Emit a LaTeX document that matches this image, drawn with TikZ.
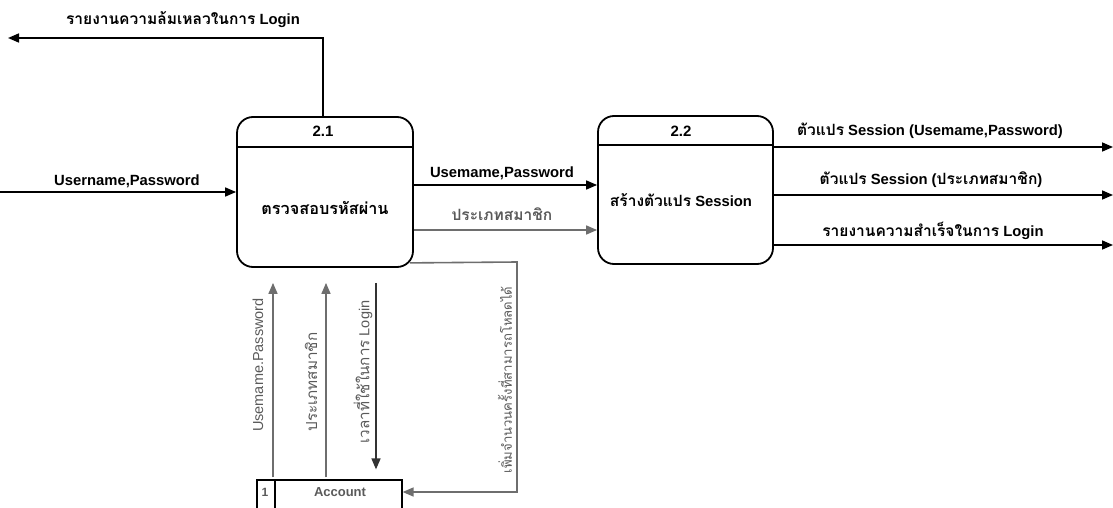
\documentclass[tikz,border=0pt]{standalone}
\usepackage{fontspec}
\setmainfont{Liberation Sans}
\newfontfamily\thaifont[Script=Thai,Scale=1.05]{Loma}
\newcommand{\tht}[1]{{\thaifont #1}}
\usetikzlibrary{arrows.meta}
\definecolor{flowgray}{HTML}{6E6E6E}
\definecolor{txtgray}{HTML}{5A5A5A}
\tikzset{
  tip/.style={-{Triangle[length=11pt,width=9pt]}},
  flow/.style={tip, line width=1.6pt, draw=black},
  gflow/.style={tip, line width=1.6pt, draw=flowgray},
  proc/.style={draw=black, line width=1.8pt, rounded corners=16pt, minimum width=176pt, minimum height=150pt, inner sep=0pt},
  lbl/.style={font=\fontsize{14.8}{17}\selectfont\bfseries, inner sep=1pt},
  vlbl/.style={font=\fontsize{14.5}{16}\selectfont, text=txtgray, rotate=90, inner sep=1pt},
}
\begin{document}
\begin{tikzpicture}[x=1pt,y=-1pt]
\useasboundingbox (0,0) rectangle (1113,508);
% processes
\node[proc] (p21) at (325,192) {};
\node[proc, minimum width=175pt, minimum height=148pt] (p22) at (685.5,190) {};
\draw[line width=1.6pt] (p21.west |- 0,147) -- (p21.east |- 0,147);
\draw[line width=1.6pt] (p22.west |- 0,145) -- (p22.east |- 0,145);
\node[lbl, font=\fontsize{15}{17}\selectfont\bfseries] (n21) at (323,131) {2.1};
\node[lbl, font=\fontsize{15}{17}\selectfont\bfseries] (n22) at (681,131) {2.2};
\node[lbl, font=\fontsize{15.5}{17}\selectfont\bfseries] (t21) at (325,208) {\tht{ตรวจสอบรหัสผ่าน}};
\node[lbl] (t22) at (681,200) {\tht{สร้างตัวแปร} Session};
% data store
\node[draw=black, line width=1.2pt, minimum width=145pt, minimum height=34pt, inner sep=0pt] (acc) at (329.5,497) {};
\draw[line width=1.2pt] (275,480) -- (275,514);
\node[font=\fontsize{12}{14}\selectfont\bfseries, text=txtgray] (one) at (265,492) {1};
\node[font=\fontsize{13}{15}\selectfont\bfseries, text=txtgray] (acct) at (340,492) {Account};
% coordinates for free ends
\coordinate (inp) at (0,192);
\coordinate (fail) at (8,38);
\coordinate (o1) at (1113,147);
\coordinate (o2) at (1113,195);
\coordinate (o3) at (1113,245);
% input
\draw[flow] (inp) -- (p21.west);
\node[lbl] (l_in) at (127,181) {Username,Password};
% failure report
\draw[flow] (p21.north -| 323,0) |- (fail);
\node[lbl] (l_fail) at (183,20) {\tht{รายงานความล้มเหลวในการ} Login};
% between processes
\draw[flow] (p21.east |- 0,185) -- (p22.west |- 0,185);
\node[lbl] (l_up) at (502,173) {Usemame,Password};
\draw[gflow] (p21.east |- 0,230) -- (p22.west |- 0,230);
\node[lbl, text=txtgray] (l_type) at (502,214) {\tht{ประเภทสมาชิก}};
% outputs
\draw[flow] (p22.east |- o1) -- (o1);
\node[lbl] (l_o1) at (930,131) {\tht{ตัวแปร} Session (Usemame,Password)};
\draw[flow] (p22.east |- o2) -- (o2);
\node[lbl] (l_o2) at (931,180) {\tht{ตัวแปร} Session (\tht{ประเภทสมาชิก})};
\draw[flow] (p22.east |- o3) -- (o3);
\node[lbl] (l_o3) at (933,231) {\tht{รายงานความสำเร็จในการ} Login};
% store flows
\draw[gflow, shorten <=2pt, shorten >=15pt] (acc.north -| 273,0) -- (p21.south -| 273,0);
\node[vlbl] (v1) at (258,365) {Usemame.Password};
\draw[gflow, shorten <=2pt, shorten >=15pt] (acc.north -| 326,0) -- (p21.south -| 326,0);
\node[vlbl] (v2) at (311,382) {\tht{ประเภทสมาชิก}};
\draw[flow, draw=black!80, shorten <=15pt, shorten >=10pt] (p21.south -| 376,0) -- (acc.north -| 376,0);
\node[vlbl] (v3) at (363,372) {\tht{เวลาที่ใช้ในการ} Login};
\draw[gflow] ([xshift=-4pt,yshift=5pt]p21.south east) -- (517,262) |- ([yshift=5pt]acc.east);
\node[vlbl, font=\fontsize{12.5}{14}\selectfont] (v4) at (505,380) {\tht{เพิ่มจำนวนครั้งที่สามารถโหลดได้}};
\end{tikzpicture}
\end{document}
